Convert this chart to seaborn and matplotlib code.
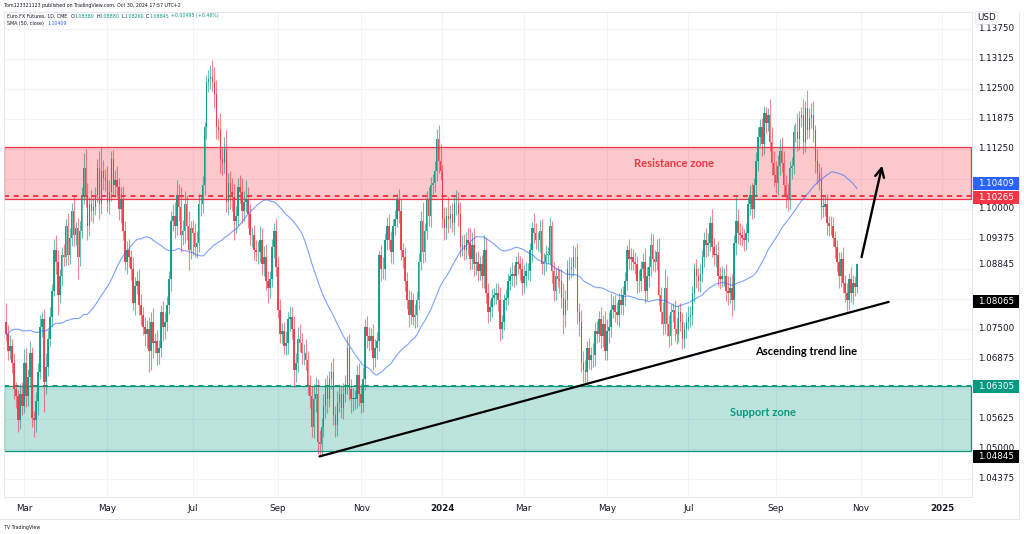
import numpy as np
import pandas as pd
import matplotlib
matplotlib.use('Agg')
import matplotlib.pyplot as plt
import matplotlib.transforms as mtransforms
from matplotlib.patches import Rectangle
from matplotlib.lines import Line2D
import seaborn as sns

# ---- data -------------------------------------------------------------
# 49 daily closes before the first drawn bar (only feed the SMA 50)
prior_closes = [
    1.0525, 1.0500, 1.0540, 1.0590, 1.0570, 1.0570, 1.0665, 1.0715, 1.0660, 1.0620,
    1.0640, 1.0660, 1.0640, 1.0630, 1.0650, 1.0675, 1.0645, 1.0695, 1.0735,
    1.0580, 1.0635, 1.0550, 1.0675, 1.0760, 1.0765, 1.0790, 1.0885, 1.0860, 1.0820,
    1.0825, 1.0860, 1.0885, 1.0900, 1.0915, 1.0940, 1.0915, 1.0895, 1.0870, 1.0885,
    1.1015, 1.0935, 1.0820, 1.0750, 1.0750, 1.0740, 1.0765, 1.0705, 1.0750, 1.0765,
]

# daily closes, Euro FX futures, 15 Feb 2023 .. 30 Oct 2024
closes = [
    1.0740, 1.0705, 1.0715, 1.0680, 1.0625, 1.0610, 1.0560, 1.0615, 1.0590,
    1.0680, 1.0610, 1.0650, 1.0700, 1.0565, 1.0560, 1.0600, 1.0660, 1.0755, 1.0770, 1.0640, 1.0670,
    1.0730, 1.0775, 1.0830, 1.0915, 1.0890, 1.0820, 1.0860, 1.0905, 1.0900, 1.0965, 1.0905,
    1.0940, 1.0995, 1.0945, 1.0960, 1.0900, 1.0955, 1.1030, 1.1085, 1.1030, 1.0965, 1.1010,
    1.0995, 1.1005, 1.1030, 1.1085, 1.1010, 1.1080, 1.1065, 1.1060,
    1.1015, 1.1035, 1.1105, 1.1050, 1.1060, 1.1045, 1.1000, 1.1020, 1.0955, 1.0890, 1.0915,
    1.0900, 1.0875, 1.0805, 1.0840, 1.0850, 1.0800, 1.0780, 1.0755, 1.0740, 1.0750, 1.0705,
    1.0765, 1.0720, 1.0725, 1.0700, 1.0710, 1.0785, 1.0755, 1.0765, 1.0800, 1.0855, 1.0975,
    1.0985, 1.0965, 1.1030, 1.1005, 1.0945, 1.0955, 1.1010, 1.0965, 1.0915, 1.0960,
    1.0950, 1.0920, 1.0930, 1.1010, 1.1010, 1.1050, 1.1170, 1.1265, 1.1270, 1.1275,
    1.1265, 1.1240, 1.1170, 1.1165, 1.1105, 1.1095, 1.1125, 1.1015, 1.1055, 1.1035,
    1.1025, 1.0975, 1.0985, 1.1045, 1.1035, 1.0995, 1.1015, 1.1020, 1.0990, 1.0945, 1.0945,
    1.0915, 1.0910, 1.0910, 1.0935, 1.0885, 1.0900, 1.0850, 1.0835, 1.0855, 1.0920, 1.0955, 1.0880,
    1.0790, 1.0740, 1.0745, 1.0715, 1.0720, 1.0770, 1.0775, 1.0750, 1.0665, 1.0680,
    1.0730, 1.0720, 1.0700, 1.0700, 1.0685, 1.0630, 1.0610, 1.0545, 1.0605, 1.0615,
    1.0515, 1.0510, 1.0545, 1.0590, 1.0630, 1.0605, 1.0645, 1.0660, 1.0570, 1.0550, 1.0595,
    1.0615, 1.0585, 1.0615, 1.0635, 1.0710, 1.0625, 1.0605, 1.0605, 1.0605, 1.0655, 1.0615,
    1.0595, 1.0645, 1.0755, 1.0735, 1.0725, 1.0735, 1.0690, 1.0710, 1.0725, 1.0905, 1.0875,
    1.0875, 1.0935, 1.0965, 1.0935, 1.0910, 1.0965, 1.0980, 1.1020, 1.0995, 1.0915,
    1.0900, 1.0850, 1.0810, 1.0780, 1.0810, 1.0775, 1.0780, 1.0810, 1.0890, 1.0975,
    1.0910, 1.0955, 1.1020, 1.0985, 1.1050, 1.1055, 1.1080, 1.1145, 1.1100, 1.1080,
    1.0980, 1.0960, 1.0985, 1.0980, 1.0990, 1.0970, 1.1010, 1.1010, 1.0990, 1.0920, 1.0925,
    1.0915, 1.0935, 1.0930, 1.0895, 1.0925, 1.0885, 1.0890, 1.0870, 1.0885, 1.0860,
    1.0915, 1.0825, 1.0785, 1.0795, 1.0815, 1.0820, 1.0825, 1.0810, 1.0750, 1.0765,
    1.0810, 1.0815, 1.0850, 1.0860, 1.0865, 1.0860, 1.0890, 1.0885, 1.0875, 1.0845,
    1.0860, 1.0870, 1.0870, 1.0915, 1.0960, 1.0950, 1.0935, 1.0935, 1.0955, 1.0885,
    1.0890, 1.0905, 1.0905, 1.0965, 1.0870, 1.0830, 1.0860, 1.0855, 1.0850, 1.0815,
    1.0780, 1.0810, 1.0875, 1.0875, 1.0880, 1.0900, 1.0900, 1.0785, 1.0765, 1.0680, 1.0665,
    1.0660, 1.0710, 1.0685, 1.0695, 1.0695, 1.0745, 1.0740, 1.0770, 1.0735, 1.0760, 1.0705,
    1.0745, 1.0755, 1.0790, 1.0800, 1.0785, 1.0780, 1.0810, 1.0800, 1.0820, 1.0850, 1.0915,
    1.0895, 1.0900, 1.0890, 1.0885, 1.0850, 1.0850, 1.0875, 1.0890, 1.0830, 1.0860, 1.0880,
    1.0925, 1.0895, 1.0890, 1.0910, 1.0820, 1.0785, 1.0760, 1.0835, 1.0760, 1.0735,
    1.0785, 1.0790, 1.0750, 1.0740, 1.0785, 1.0765, 1.0730, 1.0750, 1.0765,
    1.0775, 1.0780, 1.0825, 1.0875, 1.0860, 1.0850, 1.0865, 1.0900, 1.0935, 1.0925, 1.0930,
    1.0970, 1.0920, 1.0905, 1.0905, 1.0860, 1.0855, 1.0860, 1.0860, 1.0830, 1.0825, 1.0835,
    1.0810, 1.0930, 1.0975, 1.0950, 1.0945, 1.0940, 1.0935, 1.0950, 1.1010, 1.1030, 1.1000,
    1.1050, 1.1100, 1.1150, 1.1170, 1.1135, 1.1200, 1.1180, 1.1195, 1.1140, 1.1095, 1.1070,
    1.1055, 1.1090, 1.1120, 1.1095, 1.1050, 1.1030, 1.1020, 1.1085, 1.1090, 1.1160,
    1.1160, 1.1145, 1.1190, 1.1195, 1.1140, 1.1210, 1.1165, 1.1190, 1.1195, 1.1165,
    1.1100, 1.1075, 1.1060, 1.1005, 1.1005, 1.1010, 1.0970, 1.0965, 1.0965, 1.0940, 1.0920,
    1.0890, 1.0860, 1.0895, 1.0845, 1.0825, 1.0810, 1.0855, 1.0825, 1.0845, 1.0838, 1.08845,
]

# wick length above / below the candle body, in pips
upper_wicks = [
    40, 18, 22, 15, 20, 14, 12, 20, 25,
    28, 30, 16, 25, 12, 14, 18, 20, 25, 15, 22, 30, 18, 20, 14, 22, 30, 25, 14, 16, 22, 14, 26,
    20, 18, 35, 12, 22, 20, 15, 31, 40, 25, 14, 30, 18, 16, 20, 35, 50, 22, 18,
    30, 25, 15, 18, 22, 30, 20, 25, 28, 20, 18, 22, 14, 26, 18, 20, 25, 22, 16, 20, 18, 25,
    20, 28, 16, 22, 18, 14, 24, 20, 18, 16, 20, 25, 30, 30, 22, 40, 22, 28, 20, 30, 14,
    18, 20, 25, 22, 14, 18, 12, 15, 20, 26, 36, 30, 28, 20, 35, 22, 25, 40, 20, 25,
    30, 28, 22, 20, 25, 30, 22, 40, 25, 20, 18, 22, 20, 24, 30, 25, 22, 28, 20, 16, 18, 15, 25,
    20, 22, 18, 20, 25, 15, 22, 20, 28, 20, 25, 30, 22, 18, 30, 20, 25, 22, 30, 35,
    30, 25, 20, 25, 18, 25, 18, 22, 30, 20, 25, 20, 18, 22, 20, 25, 30, 20, 22, 18, 20, 25,
    20, 25, 15, 22, 20, 18, 25, 20, 18, 10, 20, 25, 15, 18, 25, 20, 14, 18, 12, 22, 25,
    15, 20, 18, 22, 20, 16, 22, 20, 18, 20, 40, 15, 18, 25, 16, 18, 20, 22, 30, 35,
    12, 25, 20, 40, 18, 22, 15, 30, 25, 25, 20, 22, 18, 25, 30, 28, 35, 20, 22, 18, 20,
    30, 25, 20, 15, 18, 16, 20, 20, 28, 15, 12, 18, 14, 20, 25, 18, 12, 20, 18, 22,
    25, 20, 18, 15, 12, 31, 20, 18, 22, 25, 18, 20, 15, 19, 10, 20, 18, 22, 20, 25,
    30, 22, 18, 25, 20, 25, 20, 30, 20, 25, 25, 20, 15, 22, 18, 25, 20, 22, 18, 25, 20, 28,
    25, 30, 35, 18, 20, 22, 15, 25, 20, 18, 10, 22, 18, 16, 20, 18, 22, 16, 18, 28, 20, 22,
    25, 22, 20, 28, 30, 18, 22, 40, 25, 20, 18, 15, 20, 22, 15, 20, 18, 15, 20,
    22, 18, 15, 12, 20, 18, 20, 15, 18, 25, 20, 15, 30, 20, 22, 28, 20, 22, 18, 25, 30, 25,
    30, 15, 50, 25, 20, 22, 18, 20, 15, 20, 25, 15, 18, 20, 18, 20, 15, 13, 15, 35, 30, 25,
    30, 22, 25, 30, 25, 20, 25, 15, 18, 15, 20, 40, 15, 18, 35, 15, 38, 20, 25, 30,
    10, 25, 20, 28, 20, 18, 22, 15, 20, 18, 15, 15, 20, 15, 25, 18, 20, 12, 25, 18, 15, 3,
]
lower_wicks = [
    15, 20, 18, 22, 20, 25, 25, 18, 20,
    15, 22, 20, 18, 20, 34, 25, 30, 15, 22, 62, 25, 18, 15, 20, 12, 25, 40, 15, 20, 18, 16, 22,
    20, 18, 22, 20, 45, 18, 15, 20, 25, 30, 22, 20, 25, 18, 15, 30, 20, 25, 22,
    22, 25, 18, 20, 25, 20, 22, 30, 20, 18, 25, 20, 22, 15, 25, 18, 20, 22, 18, 25, 30, 45,
    40, 30, 20, 25, 22, 18, 30, 25, 20, 18, 25, 20, 25, 20, 30, 35, 20, 25, 30, 42, 20,
    45, 20, 22, 20, 25, 18, 20, 25, 22, 20, 20, 30, 25, 22, 30, 25, 20, 22, 28, 35,
    30, 40, 25, 20, 22, 25, 20, 22, 30, 20, 25, 22, 18, 25, 20, 22, 25, 18, 30, 20, 18, 22, 20,
    18, 20, 22, 18, 20, 22, 25, 20, 35, 25, 20, 18, 22, 25, 20, 18, 25, 20, 22, 28,
    25, 23, 22, 20, 25, 30, 18, 20, 20, 25, 22, 18, 20, 22, 18, 20, 22, 30, 25, 22, 20, 25,
    20, 18, 22, 25, 20, 18, 25, 20, 22, 20, 25, 20, 22, 20, 18, 22, 25, 20, 18, 25, 22,
    22, 20, 18, 25, 20, 16, 22, 25, 20, 18, 22, 20, 18, 20, 22, 18, 20, 22, 25, 20,
    20, 25, 22, 30, 20, 18, 25, 22, 25, 20, 18, 22, 20, 25, 22, 20, 25, 22, 20, 18, 25,
    25, 20, 22, 18, 20, 15, 18, 22, 25, 20, 18, 20, 15, 18, 20, 22, 18, 20, 22, 25,
    20, 22, 18, 20, 25, 20, 18, 22, 25, 20, 22, 20, 18, 20, 25, 22, 20, 18, 25, 22,
    40, 25, 20, 22, 18, 20, 22, 25, 30, 20, 25, 28, 22, 18, 20, 25, 22, 20, 18, 25, 22, 20,
    20, 25, 22, 18, 20, 22, 25, 18, 20, 22, 18, 20, 22, 18, 20, 25, 22, 20, 18, 25, 20, 22,
    20, 25, 22, 18, 20, 25, 22, 20, 25, 22, 18, 20, 25, 22, 18, 20, 22, 20, 18,
    18, 20, 22, 18, 25, 20, 22, 18, 20, 25, 22, 18, 20, 22, 25, 20, 22, 18, 20, 22, 25, 20,
    32, 20, 25, 22, 20, 18, 22, 20, 18, 22, 20, 18, 22, 20, 18, 25, 20, 22, 18, 20, 25, 22,
    22, 25, 20, 18, 22, 28, 25, 20, 22, 18, 20, 25, 22, 20, 25, 22, 20, 18, 22, 25,
    25, 22, 20, 25, 22, 20, 25, 22, 20, 18, 22, 20, 25, 22, 20, 18, 22, 20, 18, 22, 20, 12,
]

# exchange holidays (no daily bar)
holidays = ['2023-02-20', '2023-04-07', '2023-05-29', '2023-06-19', '2023-07-04',
            '2023-09-04', '2023-11-23', '2023-12-25', '2024-01-01', '2024-01-15',
            '2024-02-19', '2024-03-29', '2024-05-27', '2024-06-19', '2024-07-04',
            '2024-09-02', '2024-11-28', '2024-12-25', '2025-01-01']

tick_months = ['2023-03', '2023-05', '2023-07', '2023-09', '2023-11', '2024-01',
               '2024-03', '2024-05', '2024-07', '2024-09', '2024-11', '2025-01']
tick_labels = ['Mar', 'May', 'Jul', 'Sep', 'Nov', '2024',
               'Mar', 'May', 'Jul', 'Sep', 'Nov', '2025']

price_ticks = [1.04375, 1.05, 1.05625, 1.0625, 1.06875, 1.075, 1.08125, 1.0875,
               1.09375, 1.1, 1.10625, 1.1125, 1.11875, 1.125, 1.13125, 1.1375]
# scale labels covered by the flags on the right
hidden_ticks = [1.0625, 1.08125, 1.0875, 1.10625]

resistance_zone = [1.1021, 1.1129]
resistance_line = 1.10265
support_zone = [1.0496, 1.06305]

trend_dates = ['2023-10-03', '2024-11-21']
trend_prices = [1.04845, 1.08065]
arrow_dates = ['2024-11-01', '2024-11-18']
arrow_prices = [1.0894, 1.1096]

sma_last = 1.10409
last_price = 1.08845
price_flags = [1.10409, 1.10265, 1.08065, 1.06305, 1.04845]
flag_colors = ['#2962ff', '#f23645', '#000000', '#089981', '#000000']

# ---- styling ------------------------------------------------------------
GREEN = '#089981'
RED = '#f23645'
BLUE = '#2962ff'
DARK = '#131722'
GRID = '#f0f3fa'

sns.set_theme(style='white')
plt.rcParams['font.family'] = ['DejaVu Sans']

# ---- frame --------------------------------------------------------------
cal = pd.bdate_range('2023-02-15', '2025-02-28')
cal = cal[~cal.isin(pd.to_datetime(holidays))]


def pos(day):
    return int(cal.searchsorted(pd.Timestamp(day)))


n = min(len(closes), len(upper_wicks), len(lower_wicks))
df = pd.DataFrame({'date': cal[:n], 'close': closes[:n]})
df['x'] = np.arange(n)
df['open'] = ([prior_closes[-1]] + closes[:n - 1])
df['high'] = df[['open', 'close']].max(axis=1) + np.array(upper_wicks[:n]) / 10000
df['low'] = df[['open', 'close']].min(axis=1) - np.array(lower_wicks[:n]) / 10000
df['sma'] = pd.Series(prior_closes + closes[:n]).rolling(50).mean().iloc[-n:].values

W, H = 1024, 534
fig = plt.figure(figsize=(W / 100, H / 100), dpi=100, facecolor='white')
ax = fig.add_axes([4 / W, 37 / H, 968 / W, 485 / H])
ax.set_xlim(-1.1, 487)
ymin, ymax = 1.0400, 1.14104
ax.set_ylim(ymin, ymax)

# grid and time scale
ax.set_xticks([pos(m + '-01') for m in tick_months])
ax.set_xticklabels(tick_labels)
for lab in ax.get_xticklabels():
    lab.set_fontsize(6.3)
    lab.set_color(DARK)
    if lab.get_text().isdigit():
        lab.set_fontweight('bold')
ax.tick_params(axis='x', length=0, pad=5)
ax.set_yticks(price_ticks)
ax.set_yticklabels([])
ax.tick_params(axis='y', length=0)
ax.grid(True, color=GRID, lw=0.8)
ax.set_axisbelow(True)
for sp in ax.spines.values():
    sp.set_color('#e0e3eb')
    sp.set_linewidth(0.6)

# zones
ax.axhspan(resistance_zone[0], resistance_zone[1], xmin=0, xmax=0.999,
           facecolor=(0.949, 0.212, 0.271, 0.27), edgecolor=RED, lw=0.9, zorder=1)
ax.axhline(resistance_line, xmin=0, xmax=0.999, color=RED, lw=1.4,
           ls=(0, (2.6, 2.4)), zorder=2)
ax.axhspan(support_zone[0], support_zone[1], xmin=0, xmax=0.999,
           facecolor=(0.031, 0.6, 0.506, 0.27), edgecolor=GREEN, lw=0.9, zorder=1)
ax.axhline(support_zone[1], xmin=0, xmax=0.999, color=GREEN, lw=1.4,
           ls=(0, (2.6, 2.4)), zorder=2)

# candles
colors = np.where(df['close'] >= df['open'], GREEN, RED)
ax.vlines(df['x'], df['low'], df['high'], colors=colors, lw=0.8, alpha=0.6, zorder=3)
body_low = df[['open', 'close']].min(axis=1)
body_h = np.maximum((df['close'] - df['open']).abs(), 0.00004)
ax.bar(df['x'], body_h, bottom=body_low, width=0.78, color=colors, alpha=0.9,
       lw=0, zorder=4)

# SMA 50
sns.lineplot(x=df['x'], y=df['sma'], ax=ax, color=BLUE, lw=0.8, alpha=0.6, zorder=5)
ax.set_xlabel('')
ax.set_ylabel('')

# trend line and arrow
sns.lineplot(x=[pos(d) for d in trend_dates], y=trend_prices, ax=ax, color='black',
             lw=1.6, zorder=6)
ax.annotate('', xy=(pos(arrow_dates[1]), arrow_prices[1]),
            xytext=(pos(arrow_dates[0]), arrow_prices[0]),
            arrowprops=dict(arrowstyle='->', lw=1.7, color='black', mutation_scale=16),
            zorder=7)

# annotations
ann_font = dict(family=['Lato', 'DejaVu Sans'], fontweight='bold', fontsize=8,
                ha='center', va='center', zorder=8)
bx = mtransforms.blended_transform_factory(ax.transAxes, ax.transData)
ax.text(0.692, 1.10938, 'Resistance zone', color=RED, transform=bx, **ann_font)
ax.text(0.784, 1.0575, 'Support zone', color=GREEN, transform=bx, **ann_font)
ax.text(0.8285, 1.07021, 'Ascending trend line', color='black', transform=bx, **ann_font)

# price scale on the right
fx = mtransforms.blended_transform_factory(fig.transFigure, ax.transData)
lab_x = 996 / W
for v in price_ticks:
    if any(abs(v - h) < 1e-9 for h in hidden_ticks):
        continue
    ax.text(lab_x, v, f'{v:.5f}', transform=fx, fontsize=6.3, color=DARK,
            ha='center', va='center', clip_on=False, zorder=10)

px_price = (ymax - ymin) / 485
ax.text(lab_x, last_price, f'{last_price:.5f}', transform=fx, fontsize=6.3, color=DARK,
        ha='center', va='center', clip_on=False, zorder=11)
nudges = [6, -1, 0, 0, 0]
for v, c, nd in zip(price_flags, flag_colors, nudges):
    yc = v + nd * px_price
    ax.add_patch(Rectangle((973 / W, yc - 6.5 * px_price), 46 / W, 13 * px_price,
                           transform=fx, facecolor=c, edgecolor='none',
                           clip_on=False, zorder=12))
    ax.text(lab_x, yc, f'{v:.5f}', transform=fx, fontsize=6.3, color='white',
            ha='center', va='center', clip_on=False, zorder=13)

fig.text(977 / W, 1 - 18 / H, 'USD', fontsize=6.3, color=DARK, ha='left', va='center',
         bbox=dict(boxstyle='round,pad=0.2', fc='white', ec='#e0e3eb', lw=0.5))

# header legend
fig.text(4 / W, 1 - 5 / H, 'Tom123321123 published on TradingView.com, Oct 30, 2024 17:57 UTC+2',
         fontsize=3.4, color=DARK, ha='left', va='center')
parts = [('Euro FX Futures, 1D, CME', DARK, 0), ('O', DARK, 2.5), ('1.08380', GREEN, 0),
         ('H', DARK, 1.5), ('1.08880', GREEN, 0), ('L', DARK, 1.5), ('1.08260', GREEN, 0),
         ('C', DARK, 1.5), ('1.08845', GREEN, 0), ('+0.00495 (+0.46%)', GREEN, 1.5)]
prev = fig.text(7 / W, 1 - 16 / H, parts[0][0], fontsize=3.4, color=parts[0][1],
                ha='left', va='center')
for txt, col, gap in parts[1:]:
    prev = ax.annotate(txt, xy=(1, 0.5), xycoords=prev, xytext=(gap, 0),
                       textcoords='offset points', fontsize=3.4, color=col,
                       ha='left', va='center')
sma_lab = fig.text(7 / W, 1 - 23.5 / H, 'SMA (50, close)', fontsize=3.4, color=DARK,
                   ha='left', va='center')
ax.annotate(f'{sma_last:.5f}', xy=(1, 0.5), xycoords=sma_lab, xytext=(2.5, 0),
            textcoords='offset points', fontsize=3.4, color=BLUE, ha='left', va='center')

# frame lines of the screenshot
fig.add_artist(Line2D([0, 1019 / W], [1 - 519 / H, 1 - 519 / H], color='#e0e3eb', lw=0.6))
fig.add_artist(Line2D([1019 / W, 1019 / W], [1 - 519 / H, 1 - 12 / H], color='#e0e3eb', lw=0.6))
fig.text(4 / W, 1 - 527 / H, 'TV TradingView', fontsize=3.4, color=DARK, ha='left',
         va='center')

fig.savefig('out.png', dpi=100, facecolor='white')
